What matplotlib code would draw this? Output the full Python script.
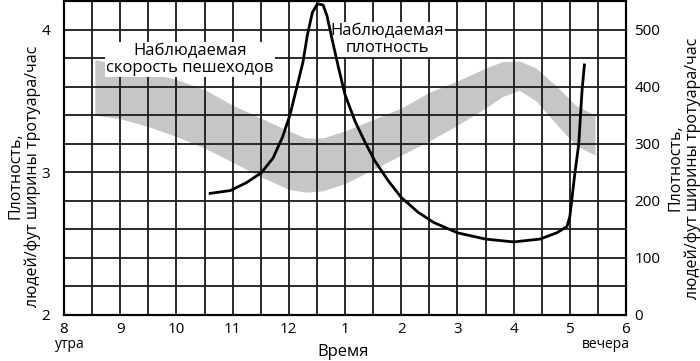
import matplotlib
matplotlib.use("Agg")
import matplotlib.pyplot as plt
from matplotlib.ticker import MultipleLocator

plt.rcParams["font.family"] = ["Open Sans", "DejaVu Sans"]

# time of day in hours (8 = 8 am, 18 = 6 pm)
hour_ticks = [8, 9, 10, 11, 12, 13, 14, 15, 16, 17, 18]
hour_labels = ["8", "9", "10", "11", "12", "1", "2", "3", "4", "5", "6"]

# observed walking speed band (left axis)
band_x = [8.55, 9.0, 9.5, 10.0, 10.5, 11.0, 11.5, 12.0, 12.3, 12.6, 13.0, 13.5,
          14.0, 14.5, 15.0, 15.5, 15.8, 16.1, 16.4, 16.8, 17.1, 17.45]
band_upper = [3.79, 3.75, 3.70, 3.65, 3.58, 3.47, 3.38, 3.29, 3.24, 3.24, 3.29, 3.37,
              3.45, 3.56, 3.64, 3.73, 3.775, 3.78, 3.73, 3.59, 3.47, 3.40]
band_lower = [3.40, 3.375, 3.32, 3.25, 3.17, 3.07, 2.97, 2.88, 2.86, 2.87, 2.92, 3.02,
              3.12, 3.22, 3.33, 3.45, 3.53, 3.575, 3.50, 3.32, 3.19, 3.12]

# observed density (right axis)
dens_x = [10.6, 10.96, 11.25, 11.51, 11.72, 11.89, 12.02, 12.12, 12.25, 12.33, 12.42,
          12.51, 12.61, 12.68, 12.77, 12.89, 13.0, 13.18, 13.35, 13.53, 13.77, 14.0,
          14.3, 14.58, 15.0, 15.5, 16.0, 16.47, 16.77, 16.95, 17.0, 17.03, 17.09,
          17.16, 17.19, 17.22, 17.26]
dens_y = [213, 218, 232, 249, 275, 312, 350, 390, 442, 490, 530,
          545, 543, 524, 483, 431, 386, 339, 304, 270, 235, 206,
          180, 162, 144, 133, 128, 133, 144, 155, 172, 197, 248,
          300, 350, 396, 438]

right_ticks = [0, 100, 200, 300, 400, 500]
left_ticks = [2, 3, 4]

fig = plt.figure(figsize=(7, 3.61), dpi=100)
ax = fig.add_axes([64 / 700, 46 / 361, 562 / 700, 314 / 361])
ax2 = ax.twinx()

ax.fill_between(band_x, band_lower, band_upper, color="#c6c6c6", linewidth=0, zorder=1)

ax.set_xlim(8, 18)
ax.set_ylim(2, 4.2)
ax2.set_ylim(0, 550)

ax.set_xticks(hour_ticks)
ax.set_xticklabels(hour_labels)
ax.xaxis.set_minor_locator(MultipleLocator(0.5))
ax.set_yticks(left_ticks)
ax.yaxis.set_minor_locator(MultipleLocator(0.2))
ax2.set_yticks(right_ticks)

ax.set_axisbelow(False)
ax.grid(True, which="both", color="#1a1a1a", linewidth=1.3)

ax2.plot(dens_x, dens_y, color="black", linewidth=2, zorder=3,
         solid_joinstyle="round")

for a in (ax, ax2):
    for s in a.spines.values():
        s.set_linewidth(1.5)
ax.tick_params(axis="both", which="both", length=0, labelsize=11)
ax.tick_params(axis="y", pad=10)
ax.tick_params(axis="x", pad=5)
ax2.tick_params(axis="y", length=0, labelsize=11, pad=6)

box = dict(facecolor="white", edgecolor="none", pad=1)
ax.text(10.24, 3.79, "Наблюдаемая\nскорость пешеходов", ha="center", va="center",
        fontsize=12, linespacing=1.05, bbox=box, zorder=5)
ax.text(13.75, 3.93, "Наблюдаемая\nплотность", ha="center", va="center",
        fontsize=12, linespacing=1.05, bbox=box, zorder=5)

fig.text(55 / 700, 1 - 345 / 361, "утра", ha="left", va="center", fontsize=10)
fig.text(630 / 700, 1 - 345 / 361, "вечера", ha="right", va="center", fontsize=10)
fig.text(343 / 700, 1 - 352 / 361, "Время", ha="center", va="center", fontsize=12)

fig.text(24 / 700, 1 - 176 / 361, "Плотность,\nлюдей/фут ширины тротуара/час",
         rotation=90, ha="center", va="center", fontsize=11.5, linespacing=1.1)
fig.text(684 / 700, 1 - 168 / 361, "Плотность,\nлюдей/фут ширины тротуара/час",
         rotation=90, ha="center", va="center", fontsize=11.5, linespacing=1.1)

fig.savefig("out.png", dpi=100)
